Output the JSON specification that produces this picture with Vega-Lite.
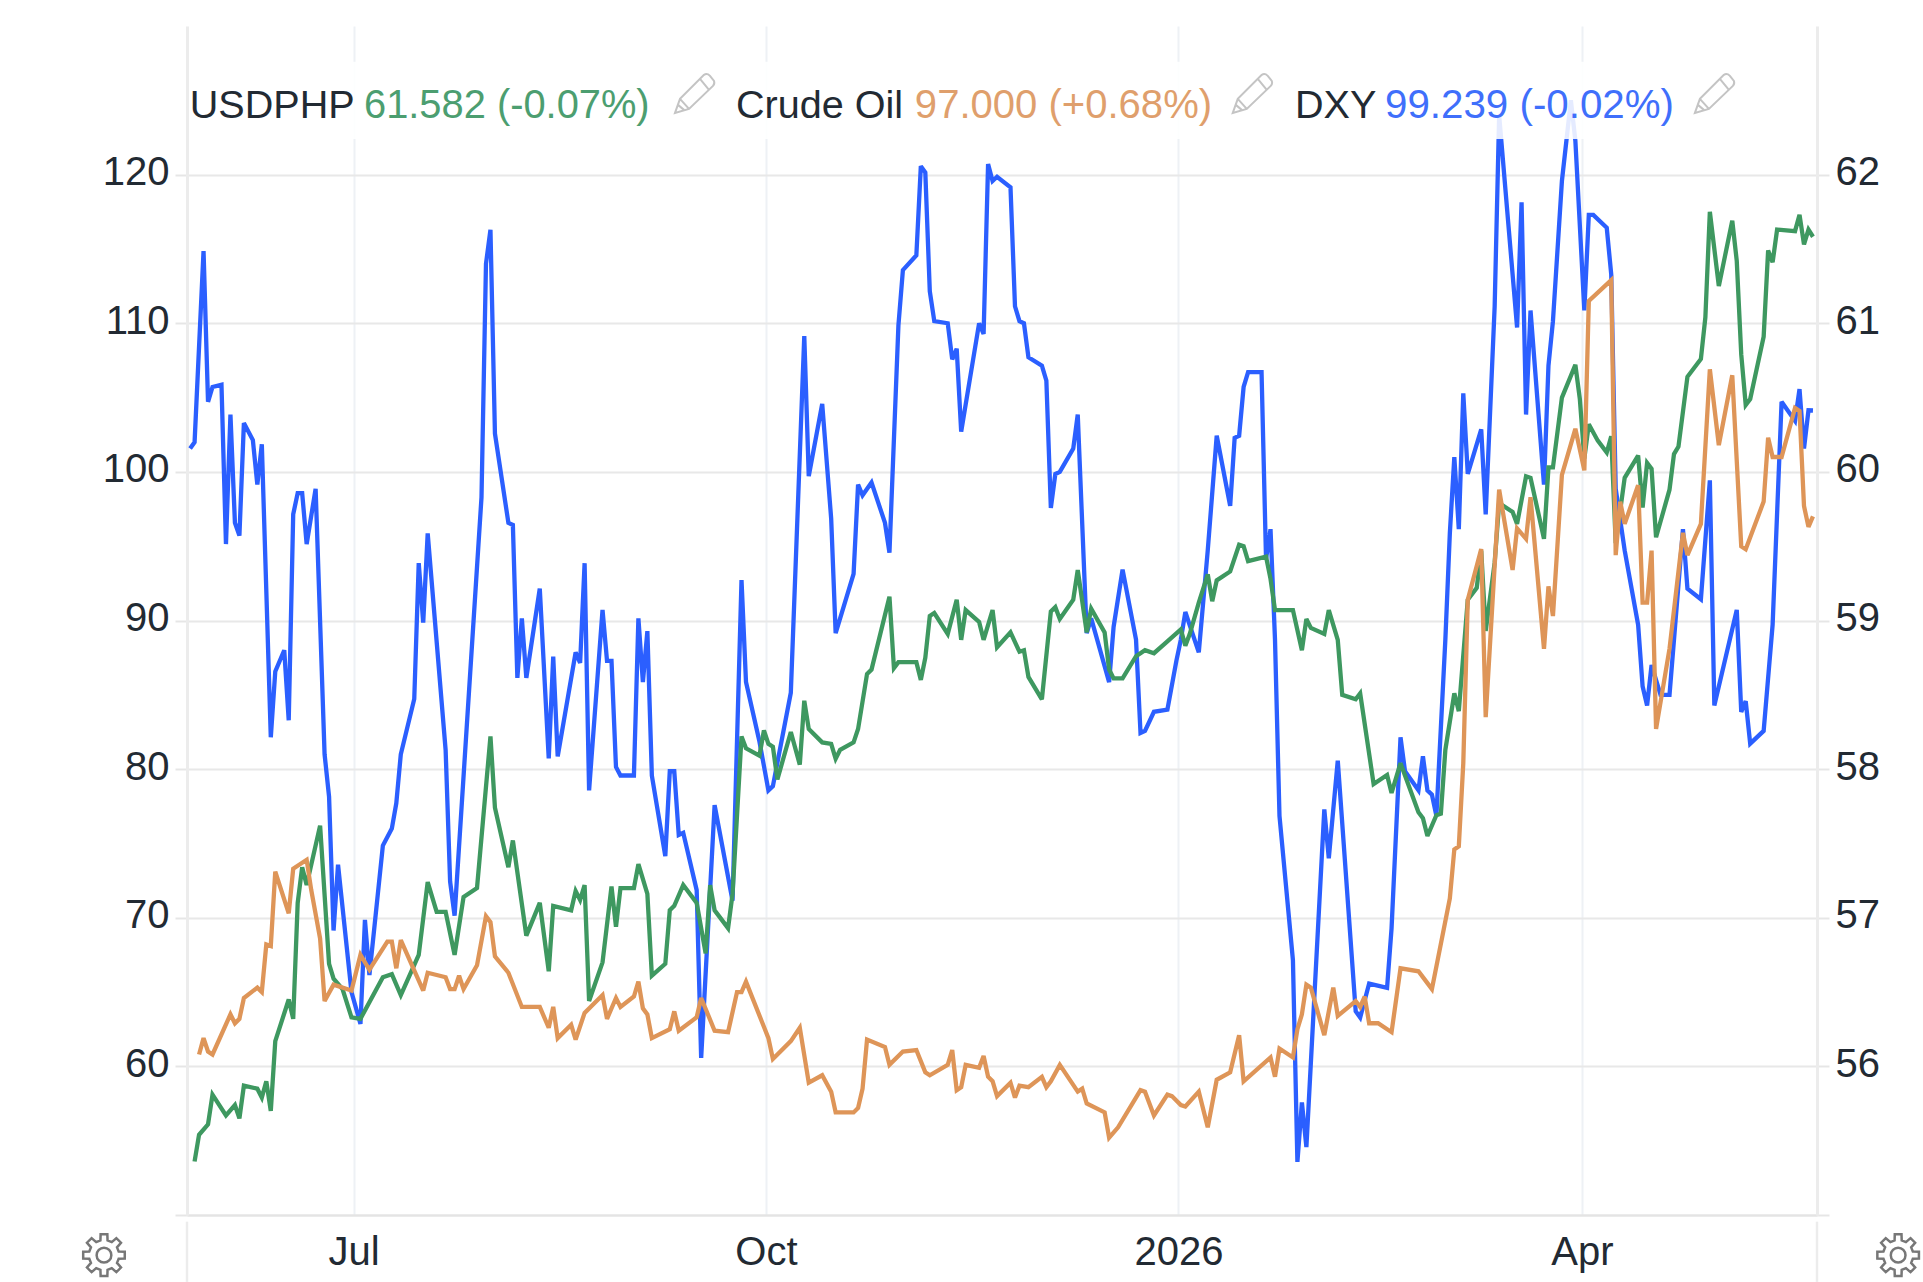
{"$schema":"https://vega.github.io/schema/vega-lite/v6.json","width":1630,"height":1189,"autosize":{"type":"none"},"padding":{"left":187,"top":26,"right":106,"bottom":67},"background":"#ffffff","config":{"view":{"stroke":null},"font":"Liberation Sans"},
"datasets":{
"dxy":[{"date":"2025-05-25","v":99.06},{"date":"2025-05-26","v":99.09},{"date":"2025-05-28","v":99.99},{"date":"2025-05-29","v":99.28},{"date":"2025-05-30","v":99.35},{"date":"2025-06-01","v":99.36},{"date":"2025-06-02","v":98.61},{"date":"2025-06-03","v":99.22},{"date":"2025-06-04","v":98.71},{"date":"2025-06-05","v":98.65},{"date":"2025-06-06","v":99.18},{"date":"2025-06-08","v":99.10},{"date":"2025-06-09","v":98.89},{"date":"2025-06-10","v":99.08},{"date":"2025-06-12","v":97.70},{"date":"2025-06-13","v":98.01},{"date":"2025-06-15","v":98.11},{"date":"2025-06-16","v":97.78},{"date":"2025-06-17","v":98.75},{"date":"2025-06-18","v":98.85},{"date":"2025-06-19","v":98.85},{"date":"2025-06-20","v":98.61},{"date":"2025-06-22","v":98.87},{"date":"2025-06-24","v":97.62},{"date":"2025-06-25","v":97.42},{"date":"2025-06-26","v":96.79},{"date":"2025-06-27","v":97.10},{"date":"2025-06-30","v":96.50},{"date":"2025-07-02","v":96.35},{"date":"2025-07-03","v":96.84},{"date":"2025-07-04","v":96.58},{"date":"2025-07-07","v":97.19},{"date":"2025-07-09","v":97.27},{"date":"2025-07-10","v":97.39},{"date":"2025-07-11","v":97.62},{"date":"2025-07-14","v":97.88},{"date":"2025-07-15","v":98.52},{"date":"2025-07-16","v":98.24},{"date":"2025-07-17","v":98.66},{"date":"2025-07-21","v":97.64},{"date":"2025-07-22","v":97.02},{"date":"2025-07-23","v":96.86},{"date":"2025-07-29","v":98.83},{"date":"2025-07-30","v":99.93},{"date":"2025-07-31","v":100.09},{"date":"2025-08-01","v":99.13},{"date":"2025-08-04","v":98.71},{"date":"2025-08-05","v":98.70},{"date":"2025-08-06","v":97.98},{"date":"2025-08-07","v":98.26},{"date":"2025-08-08","v":97.98},{"date":"2025-08-11","v":98.40},{"date":"2025-08-13","v":97.60},{"date":"2025-08-14","v":98.08},{"date":"2025-08-15","v":97.61},{"date":"2025-08-19","v":98.10},{"date":"2025-08-20","v":98.05},{"date":"2025-08-21","v":98.52},{"date":"2025-08-22","v":97.45},{"date":"2025-08-25","v":98.30},{"date":"2025-08-26","v":98.06},{"date":"2025-08-27","v":98.06},{"date":"2025-08-28","v":97.56},{"date":"2025-08-29","v":97.52},{"date":"2025-09-01","v":97.52},{"date":"2025-09-02","v":98.26},{"date":"2025-09-03","v":97.96},{"date":"2025-09-04","v":98.20},{"date":"2025-09-05","v":97.52},{"date":"2025-09-08","v":97.14},{"date":"2025-09-09","v":97.54},{"date":"2025-09-10","v":97.54},{"date":"2025-09-11","v":97.24},{"date":"2025-09-12","v":97.25},{"date":"2025-09-15","v":96.98},{"date":"2025-09-16","v":96.19},{"date":"2025-09-19","v":97.38},{"date":"2025-09-23","v":96.93},{"date":"2025-09-25","v":98.44},{"date":"2025-09-26","v":97.96},{"date":"2025-09-29","v":97.68},{"date":"2025-10-01","v":97.45},{"date":"2025-10-02","v":97.47},{"date":"2025-10-06","v":97.91},{"date":"2025-10-09","v":99.59},{"date":"2025-10-10","v":98.93},{"date":"2025-10-13","v":99.27},{"date":"2025-10-15","v":98.73},{"date":"2025-10-16","v":98.19},{"date":"2025-10-20","v":98.47},{"date":"2025-10-21","v":98.89},{"date":"2025-10-22","v":98.84},{"date":"2025-10-24","v":98.90},{"date":"2025-10-27","v":98.71},{"date":"2025-10-28","v":98.57},{"date":"2025-10-30","v":99.64},{"date":"2025-10-31","v":99.90},{"date":"2025-11-03","v":99.97},{"date":"2025-11-04","v":100.39},{"date":"2025-11-05","v":100.36},{"date":"2025-11-06","v":99.80},{"date":"2025-11-07","v":99.66},{"date":"2025-11-10","v":99.65},{"date":"2025-11-11","v":99.48},{"date":"2025-11-12","v":99.53},{"date":"2025-11-13","v":99.14},{"date":"2025-11-17","v":99.65},{"date":"2025-11-18","v":99.60},{"date":"2025-11-19","v":100.40},{"date":"2025-11-20","v":100.32},{"date":"2025-11-21","v":100.34},{"date":"2025-11-24","v":100.29},{"date":"2025-11-25","v":99.73},{"date":"2025-11-26","v":99.66},{"date":"2025-11-27","v":99.65},{"date":"2025-11-28","v":99.49},{"date":"2025-12-01","v":99.45},{"date":"2025-12-02","v":99.38},{"date":"2025-12-03","v":98.78},{"date":"2025-12-04","v":98.94},{"date":"2025-12-05","v":98.95},{"date":"2025-12-08","v":99.06},{"date":"2025-12-09","v":99.22},{"date":"2025-12-11","v":98.19},{"date":"2025-12-12","v":98.26},{"date":"2025-12-16","v":97.96},{"date":"2025-12-17","v":98.22},{"date":"2025-12-19","v":98.49},{"date":"2025-12-22","v":98.16},{"date":"2025-12-23","v":97.72},{"date":"2025-12-24","v":97.73},{"date":"2025-12-26","v":97.82},{"date":"2025-12-29","v":97.83},{"date":"2025-12-31","v":98.06},{"date":"2026-01-01","v":98.16},{"date":"2026-01-02","v":98.29},{"date":"2026-01-05","v":98.10},{"date":"2026-01-07","v":98.58},{"date":"2026-01-09","v":99.12},{"date":"2026-01-12","v":98.79},{"date":"2026-01-13","v":99.11},{"date":"2026-01-14","v":99.12},{"date":"2026-01-15","v":99.35},{"date":"2026-01-16","v":99.42},{"date":"2026-01-19","v":99.42},{"date":"2026-01-20","v":98.54},{"date":"2026-01-21","v":98.68},{"date":"2026-01-22","v":98.16},{"date":"2026-01-23","v":97.33},{"date":"2026-01-26","v":96.65},{"date":"2026-01-27","v":95.70},{"date":"2026-01-28","v":95.98},{"date":"2026-01-29","v":95.77},{"date":"2026-02-02","v":97.36},{"date":"2026-02-03","v":97.13},{"date":"2026-02-05","v":97.59},{"date":"2026-02-09","v":96.41},{"date":"2026-02-10","v":96.38},{"date":"2026-02-12","v":96.54},{"date":"2026-02-16","v":96.52},{"date":"2026-02-17","v":96.80},{"date":"2026-02-19","v":97.70},{"date":"2026-02-20","v":97.54},{"date":"2026-02-23","v":97.45},{"date":"2026-02-24","v":97.61},{"date":"2026-02-25","v":97.45},{"date":"2026-02-26","v":97.43},{"date":"2026-02-27","v":97.33},{"date":"2026-03-01","v":98.16},{"date":"2026-03-02","v":98.66},{"date":"2026-03-03","v":99.02},{"date":"2026-03-04","v":98.68},{"date":"2026-03-05","v":99.32},{"date":"2026-03-06","v":98.94},{"date":"2026-03-09","v":99.15},{"date":"2026-03-10","v":98.75},{"date":"2026-03-12","v":99.73},{"date":"2026-03-13","v":100.63},{"date":"2026-03-17","v":99.63},{"date":"2026-03-18","v":100.22},{"date":"2026-03-19","v":99.22},{"date":"2026-03-20","v":99.71},{"date":"2026-03-23","v":98.89},{"date":"2026-03-24","v":99.45},{"date":"2026-03-25","v":99.66},{"date":"2026-03-27","v":100.32},{"date":"2026-03-28","v":100.51},{"date":"2026-03-29","v":100.70},{"date":"2026-03-30","v":100.51},{"date":"2026-04-01","v":99.71},{"date":"2026-04-02","v":100.16},{"date":"2026-04-03","v":100.16},{"date":"2026-04-06","v":100.10},{"date":"2026-04-07","v":99.88},{"date":"2026-04-08","v":98.87},{"date":"2026-04-10","v":98.58},{"date":"2026-04-13","v":98.23},{"date":"2026-04-14","v":97.94},{"date":"2026-04-15","v":97.85},{"date":"2026-04-16","v":98.04},{"date":"2026-04-18","v":97.90},{"date":"2026-04-20","v":97.90},{"date":"2026-04-23","v":98.68},{"date":"2026-04-24","v":98.40},{"date":"2026-04-27","v":98.35},{"date":"2026-04-29","v":98.91},{"date":"2026-04-30","v":97.85},{"date":"2026-05-05","v":98.30},{"date":"2026-05-06","v":97.82},{"date":"2026-05-07","v":97.87},{"date":"2026-05-08","v":97.67},{"date":"2026-05-11","v":97.73},{"date":"2026-05-13","v":98.23},{"date":"2026-05-15","v":99.28},{"date":"2026-05-18","v":99.19},{"date":"2026-05-19","v":99.34},{"date":"2026-05-20","v":99.06},{"date":"2026-05-21","v":99.24},{"date":"2026-05-22","v":99.239}],
"usdphp":[{"date":"2025-05-26","v":55.36},{"date":"2025-05-27","v":55.54},{"date":"2025-05-29","v":55.61},{"date":"2025-05-30","v":55.81},{"date":"2025-06-02","v":55.67},{"date":"2025-06-04","v":55.74},{"date":"2025-06-05","v":55.65},{"date":"2025-06-06","v":55.87},{"date":"2025-06-09","v":55.85},{"date":"2025-06-10","v":55.79},{"date":"2025-06-11","v":55.90},{"date":"2025-06-12","v":55.70},{"date":"2025-06-13","v":56.17},{"date":"2025-06-16","v":56.45},{"date":"2025-06-17","v":56.32},{"date":"2025-06-18","v":57.10},{"date":"2025-06-19","v":57.34},{"date":"2025-06-20","v":57.22},{"date":"2025-06-23","v":57.62},{"date":"2025-06-25","v":56.69},{"date":"2025-06-26","v":56.59},{"date":"2025-06-28","v":56.52},{"date":"2025-06-30","v":56.33},{"date":"2025-07-02","v":56.32},{"date":"2025-07-07","v":56.60},{"date":"2025-07-09","v":56.62},{"date":"2025-07-11","v":56.48},{"date":"2025-07-15","v":56.75},{"date":"2025-07-17","v":57.24},{"date":"2025-07-19","v":57.04},{"date":"2025-07-21","v":57.04},{"date":"2025-07-23","v":56.75},{"date":"2025-07-25","v":57.14},{"date":"2025-07-28","v":57.20},{"date":"2025-07-31","v":58.22},{"date":"2025-08-01","v":57.74},{"date":"2025-08-04","v":57.34},{"date":"2025-08-05","v":57.52},{"date":"2025-08-08","v":56.88},{"date":"2025-08-11","v":57.10},{"date":"2025-08-13","v":56.64},{"date":"2025-08-14","v":57.08},{"date":"2025-08-18","v":57.05},{"date":"2025-08-19","v":57.18},{"date":"2025-08-20","v":57.12},{"date":"2025-08-21","v":57.22},{"date":"2025-08-22","v":56.44},{"date":"2025-08-25","v":56.70},{"date":"2025-08-27","v":57.21},{"date":"2025-08-28","v":56.94},{"date":"2025-08-29","v":57.20},{"date":"2025-09-01","v":57.20},{"date":"2025-09-02","v":57.36},{"date":"2025-09-04","v":57.16},{"date":"2025-09-05","v":56.61},{"date":"2025-09-08","v":56.69},{"date":"2025-09-09","v":57.05},{"date":"2025-09-10","v":57.08},{"date":"2025-09-12","v":57.22},{"date":"2025-09-15","v":57.10},{"date":"2025-09-17","v":56.76},{"date":"2025-09-18","v":57.22},{"date":"2025-09-19","v":57.05},{"date":"2025-09-22","v":56.93},{"date":"2025-09-23","v":57.16},{"date":"2025-09-25","v":58.22},{"date":"2025-09-26","v":58.14},{"date":"2025-09-29","v":58.09},{"date":"2025-09-30","v":58.26},{"date":"2025-10-01","v":58.17},{"date":"2025-10-02","v":58.15},{"date":"2025-10-03","v":57.93},{"date":"2025-10-06","v":58.25},{"date":"2025-10-08","v":58.03},{"date":"2025-10-09","v":58.46},{"date":"2025-10-10","v":58.27},{"date":"2025-10-13","v":58.18},{"date":"2025-10-15","v":58.17},{"date":"2025-10-16","v":58.07},{"date":"2025-10-17","v":58.13},{"date":"2025-10-20","v":58.18},{"date":"2025-10-21","v":58.27},{"date":"2025-10-23","v":58.64},{"date":"2025-10-24","v":58.67},{"date":"2025-10-28","v":59.16},{"date":"2025-10-29","v":58.68},{"date":"2025-10-30","v":58.72},{"date":"2025-11-03","v":58.72},{"date":"2025-11-04","v":58.60},{"date":"2025-11-05","v":58.75},{"date":"2025-11-06","v":59.03},{"date":"2025-11-07","v":59.05},{"date":"2025-11-10","v":58.91},{"date":"2025-11-12","v":59.14},{"date":"2025-11-13","v":58.87},{"date":"2025-11-14","v":59.07},{"date":"2025-11-17","v":58.99},{"date":"2025-11-18","v":58.87},{"date":"2025-11-20","v":59.07},{"date":"2025-11-21","v":58.82},{"date":"2025-11-24","v":58.92},{"date":"2025-11-26","v":58.79},{"date":"2025-11-27","v":58.80},{"date":"2025-11-28","v":58.62},{"date":"2025-12-01","v":58.47},{"date":"2025-12-03","v":59.06},{"date":"2025-12-04","v":59.09},{"date":"2025-12-05","v":59.01},{"date":"2025-12-08","v":59.14},{"date":"2025-12-09","v":59.34},{"date":"2025-12-11","v":58.92},{"date":"2025-12-12","v":59.08},{"date":"2025-12-15","v":58.92},{"date":"2025-12-16","v":58.67},{"date":"2025-12-17","v":58.61},{"date":"2025-12-19","v":58.61},{"date":"2025-12-22","v":58.76},{"date":"2025-12-24","v":58.80},{"date":"2025-12-26","v":58.78},{"date":"2025-12-29","v":58.86},{"date":"2026-01-01","v":58.94},{"date":"2026-01-02","v":58.83},{"date":"2026-01-03","v":58.91},{"date":"2026-01-05","v":59.12},{"date":"2026-01-07","v":59.31},{"date":"2026-01-08","v":59.13},{"date":"2026-01-09","v":59.27},{"date":"2026-01-12","v":59.33},{"date":"2026-01-14","v":59.51},{"date":"2026-01-15","v":59.50},{"date":"2026-01-16","v":59.40},{"date":"2026-01-20","v":59.43},{"date":"2026-01-21","v":59.28},{"date":"2026-01-22","v":59.07},{"date":"2026-01-26","v":59.07},{"date":"2026-01-28","v":58.80},{"date":"2026-01-29","v":59.01},{"date":"2026-01-30","v":58.95},{"date":"2026-02-02","v":58.91},{"date":"2026-02-03","v":59.07},{"date":"2026-02-05","v":58.87},{"date":"2026-02-06","v":58.50},{"date":"2026-02-09","v":58.47},{"date":"2026-02-10","v":58.51},{"date":"2026-02-13","v":57.90},{"date":"2026-02-16","v":57.96},{"date":"2026-02-17","v":57.84},{"date":"2026-02-19","v":58.04},{"date":"2026-02-23","v":57.71},{"date":"2026-02-24","v":57.67},{"date":"2026-02-25","v":57.55},{"date":"2026-02-27","v":57.69},{"date":"2026-02-28","v":57.70},{"date":"2026-03-01","v":58.13},{"date":"2026-03-03","v":58.51},{"date":"2026-03-04","v":58.39},{"date":"2026-03-06","v":59.14},{"date":"2026-03-08","v":59.22},{"date":"2026-03-09","v":59.47},{"date":"2026-03-10","v":58.93},{"date":"2026-03-12","v":59.39},{"date":"2026-03-13","v":59.79},{"date":"2026-03-14","v":59.77},{"date":"2026-03-16","v":59.73},{"date":"2026-03-17","v":59.65},{"date":"2026-03-19","v":59.97},{"date":"2026-03-20","v":59.96},{"date":"2026-03-23","v":59.55},{"date":"2026-03-24","v":60.03},{"date":"2026-03-25","v":60.03},{"date":"2026-03-27","v":60.50},{"date":"2026-03-30","v":60.72},{"date":"2026-03-31","v":60.49},{"date":"2026-04-01","v":60.09},{"date":"2026-04-02","v":60.32},{"date":"2026-04-04","v":60.21},{"date":"2026-04-06","v":60.13},{"date":"2026-04-07","v":60.24},{"date":"2026-04-08","v":59.52},{"date":"2026-04-10","v":59.96},{"date":"2026-04-13","v":60.11},{"date":"2026-04-14","v":59.76},{"date":"2026-04-15","v":60.06},{"date":"2026-04-16","v":60.02},{"date":"2026-04-17","v":59.56},{"date":"2026-04-20","v":59.88},{"date":"2026-04-21","v":60.12},{"date":"2026-04-22","v":60.17},{"date":"2026-04-24","v":60.64},{"date":"2026-04-27","v":60.76},{"date":"2026-04-28","v":61.04},{"date":"2026-04-29","v":61.75},{"date":"2026-05-01","v":61.25},{"date":"2026-05-04","v":61.69},{"date":"2026-05-05","v":61.42},{"date":"2026-05-06","v":60.79},{"date":"2026-05-07","v":60.45},{"date":"2026-05-08","v":60.49},{"date":"2026-05-11","v":60.91},{"date":"2026-05-12","v":61.49},{"date":"2026-05-13","v":61.41},{"date":"2026-05-14","v":61.63},{"date":"2026-05-18","v":61.62},{"date":"2026-05-19","v":61.73},{"date":"2026-05-20","v":61.53},{"date":"2026-05-21","v":61.63},{"date":"2026-05-22","v":61.582}],
"crude":[{"date":"2025-05-27","v":60.8},{"date":"2025-05-28","v":61.9},{"date":"2025-05-29","v":61.0},{"date":"2025-05-30","v":60.8},{"date":"2025-06-03","v":63.5},{"date":"2025-06-04","v":62.9},{"date":"2025-06-05","v":63.2},{"date":"2025-06-06","v":64.6},{"date":"2025-06-09","v":65.3},{"date":"2025-06-10","v":65.0},{"date":"2025-06-11","v":68.2},{"date":"2025-06-12","v":68.1},{"date":"2025-06-13","v":73.1},{"date":"2025-06-16","v":70.3},{"date":"2025-06-17","v":73.3},{"date":"2025-06-20","v":73.9},{"date":"2025-06-21","v":71.9},{"date":"2025-06-23","v":68.6},{"date":"2025-06-24","v":64.4},{"date":"2025-06-26","v":65.5},{"date":"2025-06-30","v":65.1},{"date":"2025-07-02","v":67.5},{"date":"2025-07-04","v":66.5},{"date":"2025-07-08","v":68.4},{"date":"2025-07-09","v":68.4},{"date":"2025-07-10","v":66.6},{"date":"2025-07-11","v":68.5},{"date":"2025-07-16","v":65.1},{"date":"2025-07-17","v":66.3},{"date":"2025-07-21","v":66.0},{"date":"2025-07-22","v":65.2},{"date":"2025-07-23","v":65.2},{"date":"2025-07-24","v":66.1},{"date":"2025-07-25","v":65.2},{"date":"2025-07-28","v":66.8},{"date":"2025-07-30","v":70.1},{"date":"2025-07-31","v":69.7},{"date":"2025-08-01","v":67.4},{"date":"2025-08-04","v":66.3},{"date":"2025-08-07","v":64.0},{"date":"2025-08-11","v":64.0},{"date":"2025-08-13","v":62.6},{"date":"2025-08-14","v":64.0},{"date":"2025-08-15","v":61.9},{"date":"2025-08-18","v":62.8},{"date":"2025-08-19","v":61.8},{"date":"2025-08-21","v":63.6},{"date":"2025-08-25","v":64.8},{"date":"2025-08-26","v":63.2},{"date":"2025-08-28","v":64.6},{"date":"2025-08-29","v":64.0},{"date":"2025-09-01","v":64.7},{"date":"2025-09-02","v":65.7},{"date":"2025-09-03","v":63.9},{"date":"2025-09-04","v":63.5},{"date":"2025-09-05","v":61.9},{"date":"2025-09-09","v":62.5},{"date":"2025-09-10","v":63.7},{"date":"2025-09-11","v":62.4},{"date":"2025-09-15","v":63.3},{"date":"2025-09-16","v":64.6},{"date":"2025-09-19","v":62.4},{"date":"2025-09-22","v":62.3},{"date":"2025-09-24","v":65.0},{"date":"2025-09-25","v":65.0},{"date":"2025-09-26","v":65.7},{"date":"2025-10-01","v":61.9},{"date":"2025-10-02","v":60.5},{"date":"2025-10-06","v":61.7},{"date":"2025-10-08","v":62.6},{"date":"2025-10-10","v":58.9},{"date":"2025-10-13","v":59.4},{"date":"2025-10-15","v":58.3},{"date":"2025-10-16","v":56.9},{"date":"2025-10-20","v":56.9},{"date":"2025-10-21","v":57.2},{"date":"2025-10-22","v":58.5},{"date":"2025-10-23","v":61.8},{"date":"2025-10-27","v":61.3},{"date":"2025-10-28","v":60.1},{"date":"2025-10-31","v":61.0},{"date":"2025-11-03","v":61.1},{"date":"2025-11-05","v":59.6},{"date":"2025-11-06","v":59.4},{"date":"2025-11-10","v":60.1},{"date":"2025-11-11","v":61.1},{"date":"2025-11-12","v":58.4},{"date":"2025-11-13","v":58.6},{"date":"2025-11-14","v":60.1},{"date":"2025-11-17","v":59.9},{"date":"2025-11-18","v":60.7},{"date":"2025-11-19","v":59.3},{"date":"2025-11-20","v":59.0},{"date":"2025-11-21","v":58.0},{"date":"2025-11-24","v":58.9},{"date":"2025-11-25","v":57.9},{"date":"2025-11-26","v":58.7},{"date":"2025-11-28","v":58.6},{"date":"2025-12-01","v":59.3},{"date":"2025-12-02","v":58.6},{"date":"2025-12-03","v":59.0},{"date":"2025-12-05","v":60.1},{"date":"2025-12-09","v":58.3},{"date":"2025-12-10","v":58.5},{"date":"2025-12-11","v":57.5},{"date":"2025-12-15","v":56.9},{"date":"2025-12-16","v":55.2},{"date":"2025-12-18","v":55.9},{"date":"2025-12-23","v":58.4},{"date":"2025-12-24","v":58.3},{"date":"2025-12-26","v":56.7},{"date":"2025-12-29","v":58.1},{"date":"2025-12-30","v":58.0},{"date":"2026-01-01","v":57.4},{"date":"2026-01-02","v":57.3},{"date":"2026-01-05","v":58.3},{"date":"2026-01-07","v":55.9},{"date":"2026-01-09","v":59.1},{"date":"2026-01-12","v":59.6},{"date":"2026-01-14","v":62.1},{"date":"2026-01-15","v":59.0},{"date":"2026-01-21","v":60.6},{"date":"2026-01-22","v":59.3},{"date":"2026-01-23","v":61.2},{"date":"2026-01-26","v":60.6},{"date":"2026-01-27","v":62.5},{"date":"2026-01-28","v":63.5},{"date":"2026-01-29","v":65.5},{"date":"2026-01-30","v":65.3},{"date":"2026-02-02","v":62.1},{"date":"2026-02-04","v":65.3},{"date":"2026-02-05","v":63.4},{"date":"2026-02-09","v":64.4},{"date":"2026-02-10","v":64.0},{"date":"2026-02-11","v":64.7},{"date":"2026-02-12","v":62.9},{"date":"2026-02-14","v":62.9},{"date":"2026-02-17","v":62.3},{"date":"2026-02-19","v":66.6},{"date":"2026-02-23","v":66.4},{"date":"2026-02-25","v":65.6},{"date":"2026-02-26","v":65.2},{"date":"2026-03-02","v":71.3},{"date":"2026-03-03","v":74.6},{"date":"2026-03-04","v":74.8},{"date":"2026-03-05","v":80.4},{"date":"2026-03-06","v":91.4},{"date":"2026-03-09","v":94.8},{"date":"2026-03-10","v":83.5},{"date":"2026-03-13","v":98.8},{"date":"2026-03-16","v":93.4},{"date":"2026-03-17","v":96.2},{"date":"2026-03-19","v":95.5},{"date":"2026-03-20","v":98.3},{"date":"2026-03-23","v":88.1},{"date":"2026-03-24","v":92.3},{"date":"2026-03-25","v":90.3},{"date":"2026-03-27","v":99.8},{"date":"2026-03-30","v":102.9},{"date":"2026-04-01","v":100.1},{"date":"2026-04-02","v":111.5},{"date":"2026-04-07","v":112.9},{"date":"2026-04-08","v":94.4},{"date":"2026-04-09","v":98},{"date":"2026-04-10","v":96.5},{"date":"2026-04-13","v":99.1},{"date":"2026-04-14","v":91.2},{"date":"2026-04-15","v":91.2},{"date":"2026-04-16","v":94.7},{"date":"2026-04-17","v":82.7},{"date":"2026-04-20","v":88.1},{"date":"2026-04-23","v":95.9},{"date":"2026-04-24","v":94.4},{"date":"2026-04-27","v":96.5},{"date":"2026-04-29","v":106.9},{"date":"2026-05-01","v":101.8},{"date":"2026-05-04","v":106.5},{"date":"2026-05-06","v":95},{"date":"2026-05-07","v":94.8},{"date":"2026-05-11","v":98},{"date":"2026-05-12","v":102.3},{"date":"2026-05-13","v":101},{"date":"2026-05-15","v":101},{"date":"2026-05-18","v":104.3},{"date":"2026-05-19","v":104.1},{"date":"2026-05-20","v":97.7},{"date":"2026-05-21","v":96.3},{"date":"2026-05-22","v":97.0}],
"header":[{"date":"2025-05-24T22:00Z","level":123.8,"label":"USDPHP","part":"name"},{"date":"2025-07-02T19:00Z","level":123.8,"label":"61.582 (-0.07%)","part":"USDPHP"},{"date":"2025-09-23T18:00Z","level":123.8,"label":"Crude Oil","part":"name"},{"date":"2025-11-02T16:00Z","level":123.8,"label":"97.000 (+0.68%)","part":"Crude Oil"},{"date":"2026-01-26T11:00Z","level":123.8,"label":"DXY","part":"name"},{"date":"2026-02-15T13:00Z","level":123.8,"label":"99.239 (-0.02%)","part":"DXY"}],
"band":[{"date":"2025-05-24T22:00Z","end":"2026-05-14T00:00Z","level":127.6,"level2":122.4}],
"edges":[{"date":"2025-05-24T07:26Z","level":49.55,"level2":45.5},{"date":"2026-05-22T21:36Z","level":49.55,"level2":45.5}],
"pencils":[{"date":"2025-09-14T15:00Z","level":125.5},{"date":"2026-01-17T01:00Z","level":125.5},{"date":"2026-04-30T03:00Z","level":125.5}],
"gears":[{"date":"2025-05-05T19:00Z","level":47.3},{"date":"2026-06-10T00:00Z","level":47.3}]
},
"encoding":{"x":{"field":"date","type":"temporal","title":null,"scale":{"type":"utc","domain":["2025-05-24T07:26:00Z","2026-05-22T21:36:00Z"]},"axis":{"values":["2025-06-30T10:48:00Z","2025-09-30T10:48:00Z","2025-12-31T10:48:00Z","2026-03-31T10:48:00Z"],"labelExpr":"utcmonth(datum.value)==5?'Jul':utcmonth(datum.value)==8?'Oct':utcmonth(datum.value)==11?'2026':'Apr'","labelFont":"Liberation Sans","labelFontSize":40,"labelColor":"#222a33","labelPadding":17,"labelFlush":false,"labelOverlap":false,"ticks":false,"grid":true,"gridColor":"#eef1f5","gridWidth":2,"domain":true,"domainColor":"#e4e4e4","domainWidth":2}}},
"resolve":{"scale":{"y":"independent","color":"independent","size":"independent"}},
"layer":[
{"data":{"name":"dxy"},"mark":{"type":"line","color":"#2b5fff","strokeWidth":4.3,"strokeJoin":"miter","strokeMiterLimit":3},"encoding":{"y":{"field":"v","type":"quantitative","scale":{"domain":[95.45,101.05],"nice":false,"zero":false},"axis":null}}},
{"data":{"name":"usdphp"},"mark":{"type":"line","color":"#3e9860","strokeWidth":4.3,"strokeMiterLimit":3},"encoding":{"y":{"field":"v","type":"quantitative","scale":{"domain":[55,63],"nice":false,"zero":false},"axis":{"orient":"right","title":null,"values":[55,56,57,58,59,60,61,62],"labelExpr":"datum.value==55?'':datum.label","labelFont":"Liberation Sans","labelFontSize":40,"labelColor":"#222a33","labelPadding":6,"labelOffset":-2,"tickSize":12,"tickColor":"#e6e6e6","tickWidth":2,"domainColor":"#ececec","domainWidth":3,"grid":false,"labelOverlap":false}}}},
{"data":{"name":"crude"},"mark":{"type":"line","color":"#de9558","strokeWidth":4.3,"strokeMiterLimit":3},"encoding":{"y":{"field":"v","type":"quantitative","scale":{"domain":[50,130],"nice":false,"zero":false},"axis":{"orient":"left","title":null,"values":[50,60,70,80,90,100,110,120],"labelExpr":"datum.value==50?'':datum.label","labelFont":"Liberation Sans","labelFontSize":40,"labelColor":"#222a33","labelPadding":6,"labelOffset":-2,"tickSize":12,"tickColor":"#e6e6e6","tickWidth":2,"domainColor":"#ececec","domainWidth":3,"grid":true,"gridColor":"#e8e8e8","gridWidth":2,"labelOverlap":false}}}},
{"data":{"name":"band"},"mark":{"type":"rect","color":"#ffffff","opacity":0.88},"encoding":{"x2":{"field":"end"},"y":{"field":"level","type":"quantitative","scale":{"domain":[50,130],"nice":false,"zero":false},"axis":null},"y2":{"field":"level2"}}},
{"data":{"name":"edges"},"mark":{"type":"rule","color":"#ececec","strokeWidth":2.5},"encoding":{"y":{"field":"level","type":"quantitative","scale":{"domain":[50,130],"nice":false,"zero":false},"axis":null},"y2":{"field":"level2"}}},
{"data":{"name":"header"},"mark":{"type":"text","align":"left","baseline":"alphabetic","font":"Liberation Sans"},"encoding":{"y":{"field":"level","type":"quantitative","scale":{"domain":[50,130],"nice":false,"zero":false},"axis":null},"text":{"field":"label"},"size":{"field":"part","type":"nominal","legend":null,"scale":{"domain":["name","USDPHP","Crude Oil","DXY"],"range":[39.6,40.3,40.3,40.3]}},"color":{"field":"part","type":"nominal","legend":null,"scale":{"domain":["name","USDPHP","Crude Oil","DXY"],"range":["#222a33","#4c9e70","#df9f6c","#3f6ffb"]}}}},
{"data":{"name":"pencils"},"mark":{"type":"point","shape":"M-1,1 L-0.75,0.3 L0.45,-0.9 Q0.6,-1 0.75,-0.85 L0.95,-0.6 Q1,-0.45 0.9,-0.35 L-0.3,0.8 Z M-0.75,0.3 L-0.3,0.8 M0.25,-0.7 L0.7,-0.15 M-0.85,0.6 L-0.55,0.85","filled":false,"stroke":"#c4c4c4","strokeWidth":2,"size":1600,"opacity":1},"encoding":{"y":{"field":"level","type":"quantitative","scale":{"domain":[50,130],"nice":false,"zero":false},"axis":null}}},
{"data":{"name":"gears"},"mark":{"type":"point","shape":"M0.70,-0.17 L0.99,-0.16 L0.99,0.16 L0.70,0.17 L0.62,0.37 L0.81,0.59 L0.59,0.81 L0.37,0.62 L0.17,0.70 L0.16,0.99 L-0.16,0.99 L-0.17,0.70 L-0.37,0.62 L-0.59,0.81 L-0.81,0.59 L-0.62,0.37 L-0.70,0.17 L-0.99,0.16 L-0.99,-0.16 L-0.70,-0.17 L-0.62,-0.37 L-0.81,-0.59 L-0.59,-0.81 L-0.37,-0.62 L-0.17,-0.70 L-0.16,-0.99 L0.16,-0.99 L0.17,-0.70 L0.37,-0.62 L0.59,-0.81 L0.81,-0.59 L0.62,-0.37 Z M-0.35,0 A0.35,0.35 0 1,0 0.35,0 A0.35,0.35 0 1,0 -0.35,0 Z","filled":false,"stroke":"#777777","strokeWidth":2.5,"size":1764,"opacity":1},"encoding":{"y":{"field":"level","type":"quantitative","scale":{"domain":[50,130],"nice":false,"zero":false},"axis":null}}}
]}
